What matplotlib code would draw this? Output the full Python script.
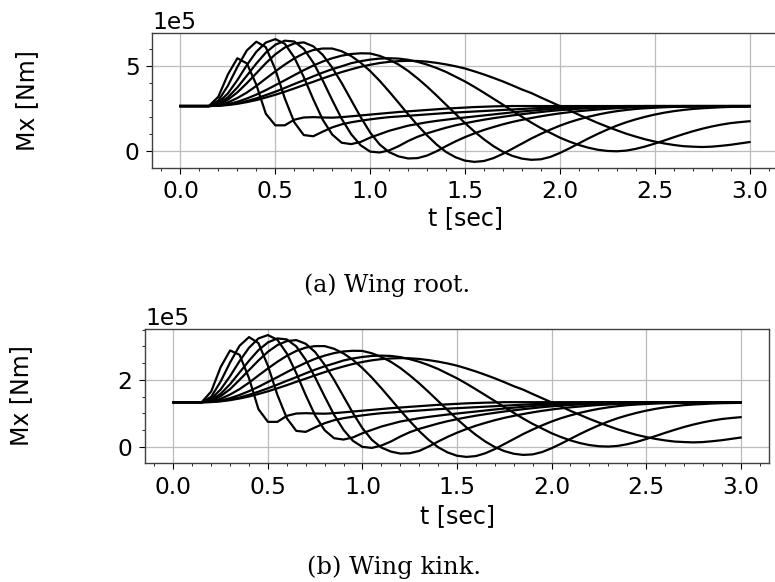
import numpy as np
import matplotlib
matplotlib.use("Agg")
import matplotlib.pyplot as plt
from matplotlib.ticker import MultipleLocator, AutoMinorLocator

DT = 0.05  # sample spacing of the read curves [s]
SCALE = 1e5

# ---- (a) Wing root, Mx in units of 1e5 Nm, sampled every 0.05 s from t=0 ----
root_1 = [2.65]*4 + [3.2, 4.5, 5.45, 5.15, 3.9, 2.2, 1.52, 1.52, 1.85, 1.98, 2.0, 1.98, 1.97, 2.0, 2.05, 2.1,
                     2.15, 2.2, 2.25, 2.3, 2.34, 2.38, 2.42, 2.46, 2.5, 2.53, 2.56, 2.59, 2.61, 2.63, 2.64] + [2.65]*26
root_2 = [2.65]*4 + [2.97, 3.84, 4.94, 5.91, 6.42, 6.1, 4.8, 3.1, 1.7, 0.95, 0.88, 1.15, 1.4, 1.58, 1.7, 1.79,
                     1.87, 1.94, 2.0, 2.04, 2.08, 2.12, 2.16, 2.2, 2.24, 2.27, 2.3, 2.33, 2.36, 2.39, 2.42, 2.45,
                     2.48, 2.51, 2.54, 2.56, 2.58, 2.6, 2.61, 2.62, 2.63, 2.64, 2.64] + [2.65]*14
root_3 = [2.65]*4 + [2.85, 3.39, 4.17, 5.05, 5.83, 6.37, 6.57, 6.3, 5.5, 4.35, 3.05, 1.85, 0.98, 0.5, 0.42, 0.55,
                     0.8, 1.0, 1.2, 1.35, 1.5, 1.6, 1.7, 1.78, 1.85, 1.92, 1.98, 2.04, 2.1, 2.16, 2.22, 2.28,
                     2.33, 2.38, 2.43, 2.47, 2.51, 2.54, 2.57, 2.59, 2.61, 2.62, 2.63, 2.64, 2.64] + [2.65]*12
root_4 = [2.65]*4 + [2.78, 3.16, 3.74, 4.43, 5.14, 5.78, 6.24, 6.48, 6.43, 6.0, 5.2, 4.15, 3.0, 1.9, 1.0, 0.35,
                     -0.02, -0.07, 0.05, 0.3, 0.6, 0.85, 1.05, 1.22, 1.38, 1.52, 1.64, 1.75, 1.85, 1.94, 2.02,
                     2.1, 2.17, 2.24, 2.3, 2.36, 2.41, 2.45, 2.49, 2.52, 2.55, 2.57, 2.59, 2.6, 2.61, 2.62, 2.63,
                     2.64, 2.64] + [2.65]*8
root_5 = [2.65]*4 + [2.74, 3.02, 3.45, 3.99, 4.57, 5.16, 5.68, 6.08, 6.32, 6.38, 6.15, 5.65, 4.9, 4.0, 3.0, 2.0,
                     1.1, 0.4, -0.05, -0.3, -0.42, -0.4, -0.25, 0.0, 0.3, 0.58, 0.83, 1.05, 1.25, 1.42, 1.58,
                     1.72, 1.84, 1.95, 2.05, 2.14, 2.22, 2.29, 2.35, 2.4, 2.45, 2.49, 2.52, 2.55, 2.57, 2.59,
                     2.6, 2.61, 2.62, 2.63, 2.63, 2.64, 2.64, 2.64, 2.65, 2.65, 2.65]
root_6 = [2.65]*4 + [2.7, 2.86, 3.12, 3.44, 3.83, 4.26, 4.68, 5.08, 5.44, 5.73, 5.93, 6.02, 6.02, 5.86, 5.58, 5.19,
                     4.7, 4.13, 3.5, 2.84, 2.17, 1.53, 0.93, 0.4, -0.04, -0.35, -0.55, -0.62, -0.57, -0.4, -0.15,
                     0.15, 0.45, 0.75, 1.02, 1.27, 1.5, 1.7, 1.87, 2.02, 2.15, 2.26, 2.35, 2.42, 2.48, 2.52,
                     2.55, 2.58, 2.6, 2.61, 2.62, 2.63, 2.63, 2.64, 2.64, 2.64, 2.65]
root_7 = [2.65]*4 + [2.68, 2.76, 2.9, 3.09, 3.32, 3.58, 3.87, 4.16, 4.46, 4.75, 5.02, 5.26, 5.45, 5.6, 5.7, 5.74,
                     5.73, 5.59, 5.37, 5.08, 4.71, 4.27, 3.79, 3.27, 2.73, 2.19, 1.65, 1.15, 0.7, 0.3, -0.03,
                     -0.27, -0.43, -0.5, -0.47, -0.33, -0.1, 0.17, 0.46, 0.75, 1.02, 1.27, 1.5, 1.7, 1.87, 2.02,
                     2.15, 2.26, 2.35, 2.42, 2.48, 2.52, 2.55, 2.58, 2.6, 2.61, 2.62]
root_8 = [2.65]*4 + [2.67, 2.73, 2.82, 2.94, 3.1, 3.29, 3.49, 3.71, 3.94, 4.16, 4.39, 4.61, 4.81, 4.98, 5.16, 5.28,
                     5.37, 5.43, 5.45, 5.43, 5.36, 5.24, 5.08, 4.88, 4.65, 4.37, 4.09, 3.77, 3.43, 3.08, 2.73,
                     2.37, 2.02, 1.68, 1.36, 1.08, 0.8, 0.57, 0.37, 0.21, 0.09, 0.02, 0.0, 0.04, 0.14, 0.28, 0.45,
                     0.63, 0.82, 1.0, 1.17, 1.32, 1.45, 1.56, 1.65, 1.71, 1.76]
root_9 = [2.65]*4 + [2.67, 2.71, 2.78, 2.88, 3.0, 3.15, 3.31, 3.49, 3.68, 3.88, 4.07, 4.27, 4.46, 4.64, 4.8, 4.95,
                     5.07, 5.17, 5.24, 5.28, 5.3, 5.29, 5.25, 5.18, 5.09, 4.98, 4.85, 4.68, 4.5, 4.3, 4.09, 3.86,
                     3.62, 3.41, 3.15, 2.9, 2.65, 2.4, 2.14, 1.9, 1.66, 1.44, 1.23, 1.03, 0.86, 0.7, 0.57, 0.46,
                     0.37, 0.3, 0.27, 0.25, 0.27, 0.32, 0.38, 0.46, 0.54]

# ---- (b) Wing kink ----
kink_1 = [1.33]*4 + [1.65, 2.38, 2.88, 2.75, 2.05, 1.12, 0.74, 0.74, 0.92, 0.99, 1.0, 0.99, 0.985, 1.0, 1.025, 1.05,
                     1.075, 1.1, 1.125, 1.15, 1.17, 1.19, 1.21, 1.23, 1.25, 1.265, 1.28, 1.295, 1.305, 1.315, 1.32] + [1.33]*26
kink_2 = [1.33]*4 + [1.49, 1.95, 2.52, 3.02, 3.28, 3.1, 2.42, 1.55, 0.85, 0.47, 0.44, 0.575, 0.7, 0.79, 0.85, 0.895,
                     0.935, 0.97, 1.0, 1.02, 1.04, 1.06, 1.08, 1.1, 1.12, 1.135, 1.15, 1.165, 1.18, 1.195, 1.21,
                     1.225, 1.24, 1.255, 1.27, 1.28, 1.29, 1.3, 1.305, 1.31, 1.315, 1.32, 1.32] + [1.33]*14
kink_3 = [1.33]*4 + [1.43, 1.71, 2.11, 2.56, 2.96, 3.24, 3.34, 3.2, 2.79, 2.2, 1.54, 0.93, 0.49, 0.25, 0.21, 0.275,
                     0.4, 0.5, 0.6, 0.675, 0.75, 0.8, 0.85, 0.89, 0.925, 0.96, 0.99, 1.02, 1.05, 1.08, 1.11, 1.14,
                     1.165, 1.19, 1.215, 1.235, 1.255, 1.27, 1.285, 1.295, 1.305, 1.31, 1.315, 1.32, 1.32] + [1.33]*12
kink_4 = [1.33]*4 + [1.39, 1.58, 1.87, 2.22, 2.57, 2.89, 3.12, 3.24, 3.21, 3.0, 2.6, 2.07, 1.5, 0.95, 0.5, 0.17,
                     -0.01, -0.04, 0.03, 0.15, 0.3, 0.43, 0.53, 0.61, 0.69, 0.76, 0.82, 0.875, 0.925, 0.97, 1.01,
                     1.05, 1.085, 1.12, 1.15, 1.18, 1.205, 1.225, 1.245, 1.26, 1.275, 1.285, 1.295, 1.3, 1.305,
                     1.31, 1.315, 1.32, 1.32] + [1.33]*8
kink_5 = [1.33]*4 + [1.37, 1.51, 1.72, 2.0, 2.29, 2.58, 2.84, 3.04, 3.16, 3.19, 3.08, 2.83, 2.45, 2.0, 1.5, 1.0,
                     0.55, 0.2, -0.03, -0.15, -0.21, -0.2, -0.13, 0.0, 0.15, 0.29, 0.415, 0.525, 0.625, 0.71, 0.79,
                     0.86, 0.92, 0.975, 1.025, 1.07, 1.11, 1.145, 1.175, 1.2, 1.225, 1.245, 1.26, 1.275, 1.285,
                     1.295, 1.3, 1.305, 1.31, 1.315, 1.315, 1.32, 1.32, 1.32, 1.33, 1.33, 1.33]
kink_6 = [1.33]*4 + [1.35, 1.43, 1.56, 1.72, 1.915, 2.13, 2.34, 2.54, 2.72, 2.865, 2.965, 3.01, 3.01, 2.93, 2.79,
                     2.595, 2.35, 2.065, 1.75, 1.42, 1.085, 0.765, 0.465, 0.2, -0.02, -0.175, -0.275, -0.31, -0.285,
                     -0.2, -0.075, 0.075, 0.225, 0.375, 0.51, 0.635, 0.75, 0.85, 0.935, 1.01, 1.075, 1.13, 1.175,
                     1.21, 1.24, 1.26, 1.275, 1.29, 1.3, 1.305, 1.31, 1.315, 1.315, 1.32, 1.32, 1.32, 1.33]
kink_7 = [1.33]*4 + [1.34, 1.38, 1.45, 1.545, 1.66, 1.79, 1.935, 2.08, 2.23, 2.375, 2.51, 2.63, 2.725, 2.8, 2.85,
                     2.87, 2.865, 2.795, 2.685, 2.54, 2.355, 2.135, 1.895, 1.635, 1.365, 1.095, 0.825, 0.575, 0.35,
                     0.15, -0.015, -0.135, -0.215, -0.25, -0.235, -0.165, -0.05, 0.085, 0.23, 0.375, 0.51, 0.635,
                     0.75, 0.85, 0.935, 1.01, 1.075, 1.13, 1.175, 1.21, 1.24, 1.26, 1.275, 1.29, 1.3, 1.305, 1.31]
kink_8 = [1.33]*4 + [1.335, 1.365, 1.41, 1.47, 1.55, 1.645, 1.745, 1.855, 1.97, 2.08, 2.195, 2.305, 2.405, 2.49,
                     2.58, 2.64, 2.685, 2.715, 2.725, 2.715, 2.68, 2.62, 2.54, 2.44, 2.325, 2.185, 2.045, 1.885,
                     1.715, 1.54, 1.365, 1.185, 1.01, 0.84, 0.68, 0.54, 0.4, 0.285, 0.185, 0.105, 0.045, 0.01, 0.0,
                     0.02, 0.07, 0.14, 0.225, 0.315, 0.41, 0.5, 0.585, 0.66, 0.725, 0.78, 0.825, 0.855, 0.88]
kink_9 = [1.33]*4 + [1.335, 1.355, 1.39, 1.44, 1.5, 1.575, 1.655, 1.745, 1.84, 1.94, 2.035, 2.135, 2.23, 2.32, 2.4,
                     2.475, 2.535, 2.585, 2.62, 2.64, 2.65, 2.645, 2.625, 2.59, 2.545, 2.49, 2.425, 2.34, 2.25,
                     2.15, 2.045, 1.93, 1.81, 1.705, 1.575, 1.45, 1.325, 1.2, 1.07, 0.95, 0.83, 0.72, 0.615, 0.515,
                     0.43, 0.35, 0.285, 0.23, 0.185, 0.15, 0.135, 0.125, 0.135, 0.16, 0.19, 0.23, 0.27]

root_curves = [root_1, root_2, root_3, root_4, root_5, root_6, root_7, root_8, root_9]
kink_curves = [kink_1, kink_2, kink_3, kink_4, kink_5, kink_6, kink_7, kink_8, kink_9]

X_TICKS = [0.0, 0.5, 1.0, 1.5, 2.0, 2.5, 3.0]
X_LABEL = "t [sec]"
Y_LABEL = "Mx [Nm]"
CAPTIONS = ["(a) Wing root.", "(b) Wing kink."]

fig = plt.figure(figsize=(7.75, 5.82), dpi=100)

TICK_FS = 16.8
LABEL_FS = 17


def make_panel(rect, curves, ymajor, ylab_x, xlab_y):
    ax = fig.add_axes(rect)
    for c in curves:
        t = np.arange(len(c)) * DT
        ax.plot(t, np.array(c) * SCALE, color="black", lw=1.6, solid_joinstyle="round")
    ax.set_xlim(-0.15, 3.15)
    ax.set_xticks(X_TICKS)
    ax.xaxis.set_minor_locator(MultipleLocator(0.1))
    ax.yaxis.set_major_locator(MultipleLocator(ymajor))
    ax.yaxis.set_minor_locator(AutoMinorLocator())
    ax.ticklabel_format(style="sci", axis="y", scilimits=(0, 0))
    ax.grid(True, which="major", color="#bcbcbc", lw=0.9)
    ax.set_axisbelow(True)
    ax.tick_params(which="major", labelsize=TICK_FS, length=4, width=0.8, pad=5)
    ax.tick_params(which="minor", length=2.2, width=0.6)
    ax.yaxis.get_offset_text().set_fontsize(TICK_FS)
    for s in ax.spines.values():
        s.set_color("0.25")
        s.set_linewidth(1.0)
    ax.set_xlabel(X_LABEL, fontsize=LABEL_FS)
    ax.set_ylabel(Y_LABEL, fontsize=LABEL_FS)
    ax.yaxis.set_label_coords(ylab_x, 0.5)
    ax.xaxis.set_label_coords(0.5, xlab_y)
    return ax


ax1 = make_panel([152/775, 1 - 168/582, 626/775, 135/582], root_curves, 5e5, -0.18, -0.28)
ax2 = make_panel([145/775, 1 - 463/582, 624/775, 134/582], kink_curves, 2e5, -0.18, -0.305)

fig.text(0.4995, 1 - 285/582, CAPTIONS[0], ha="center", va="center", family="DejaVu Serif", fontsize=17)
fig.text(0.508, 1 - 567/582, CAPTIONS[1], ha="center", va="center", family="DejaVu Serif", fontsize=17.5)

fig.savefig("out.png", dpi=100)
